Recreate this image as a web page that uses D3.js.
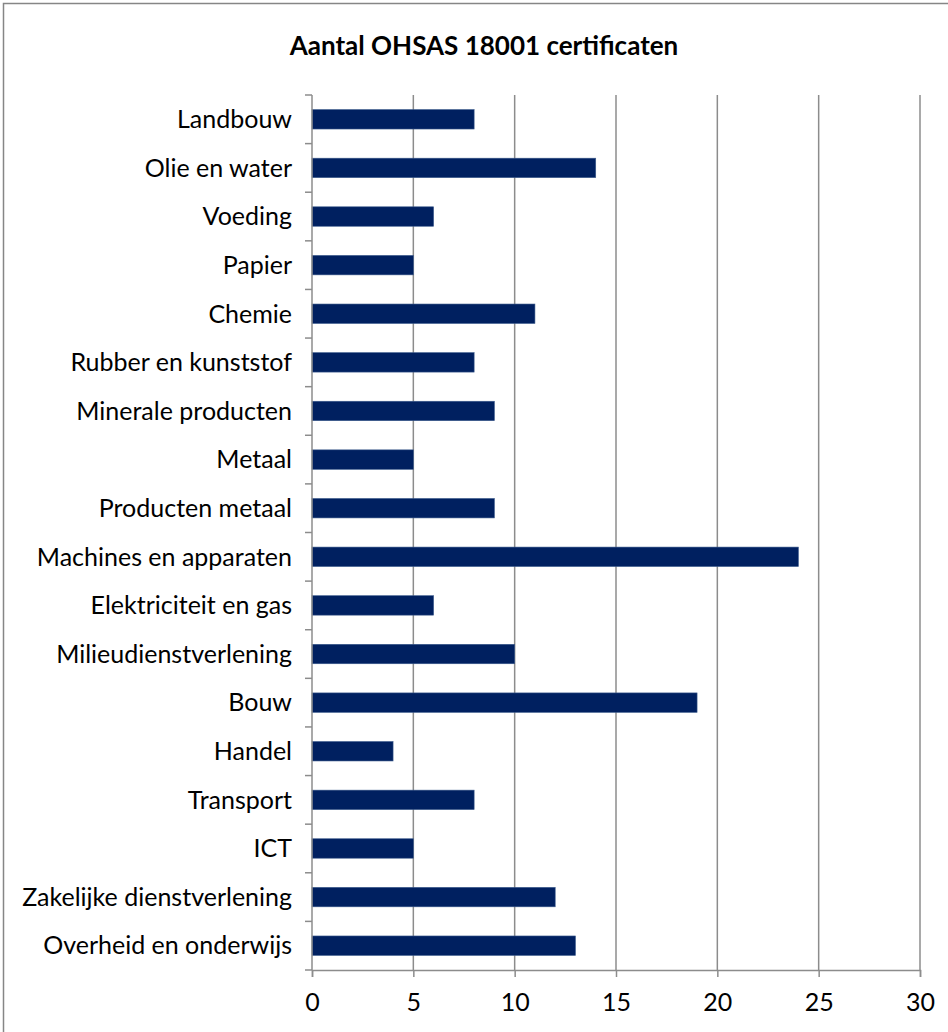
<!DOCTYPE html>
<html>
<head>
<meta charset="utf-8">
<script src="https://cdn.jsdelivr.net/npm/d3@7"></script>
<style>
  body { margin: 0; background: #fff; }
  svg { display: block; font-family: Lato, "Open Sans", sans-serif; }
</style>
</head>
<body>
<svg width="948" height="1032"></svg>
<script>
// categories top to bottom, counts
const sectors = ['Landbouw', 'Olie en water', 'Voeding', 'Papier', 'Chemie',
  'Rubber en kunststof', 'Minerale producten', 'Metaal', 'Producten metaal',
  'Machines en apparaten', 'Elektriciteit en gas', 'Milieudienstverlening',
  'Bouw', 'Handel', 'Transport', 'ICT', 'Zakelijke dienstverlening',
  'Overheid en onderwijs']
const certificates = [8, 14, 6, 5, 11, 8, 9, 5, 9, 24, 6, 10, 19, 4, 8, 5, 12, 13]
const xTicks = [0, 5, 10, 15, 20, 25, 30]
const title = 'Aantal OHSAS 18001 certificaten'

const data = sectors.map((s, i) => ({ sector: s, value: certificates[i] }))

const svg = d3.select('svg')
const margin = { top: 95, right: 28, bottom: 62, left: 312 }
const width = 948 - margin.left - margin.right
const height = 1032 - margin.top - margin.bottom

// outer chart border
svg.append('rect')
  .attr('x', 3.5).attr('y', 3.5)
  .attr('width', 948).attr('height', 1032)
  .attr('fill', 'none').attr('stroke', '#868686').attr('stroke-width', 1.5)

svg.append('text')
  .attr('x', 484).attr('y', 55)
  .attr('text-anchor', 'middle')
  .style('font-size', '26px').attr('font-weight', 'bold')
  .text(title)

const g = svg.append('g')
  .attr('transform', 'translate(' + margin.left + ',' + margin.top + ')')

const x = d3.scaleLinear().domain([0, 30]).range([0, width])
const y = d3.scaleBand().domain(sectors).range([0, height]).paddingInner(0.6).paddingOuter(0.3)

// gridlines
g.selectAll('.grid')
  .data(xTicks.slice(1))
  .enter()
  .append('line')
    .attr('class', 'grid')
    .attr('x1', d => x(d)).attr('x2', d => x(d))
    .attr('y1', 0).attr('y2', height)
    .attr('stroke', '#8c8c8c').attr('stroke-width', 1.5)

// bars
g.selectAll('.bar')
  .data(data)
  .enter()
  .append('rect')
    .attr('class', 'bar')
    .attr('x', 0)
    .attr('y', d => y(d.sector))
    .attr('width', d => x(d.value))
    .attr('height', y.bandwidth())
    .attr('fill', '#002060')
    .attr('stroke', '#3b5a8c').attr('stroke-width', 0.6)

// x axis
const xAxis = g.append('g')
  .attr('transform', 'translate(0,' + height + ')')
  .call(d3.axisBottom(x).tickValues(xTicks).tickSize(7).tickPadding(16))
xAxis.select('.domain').attr('stroke', '#8c8c8c').attr('stroke-width', 1.5)
xAxis.selectAll('.tick line').attr('stroke', '#8c8c8c').attr('stroke-width', 1.5)
xAxis.selectAll('text').style('font-size', '25px').attr('fill', '#000')
  .style('font-family', 'Lato, sans-serif')

// y axis: labels centred on bars, tick marks on category boundaries
const yAxis = g.append('g')
yAxis.append('line')
  .attr('x1', 0).attr('x2', 0).attr('y1', 0).attr('y2', height)
  .attr('stroke', '#8c8c8c').attr('stroke-width', 1.5)
yAxis.selectAll('.ytick')
  .data(d3.range(sectors.length + 1))
  .enter()
  .append('line')
    .attr('class', 'ytick')
    .attr('x1', -7).attr('x2', 0)
    .attr('y1', i => i * height / sectors.length)
    .attr('y2', i => i * height / sectors.length)
    .attr('stroke', '#8c8c8c').attr('stroke-width', 1.5)
yAxis.selectAll('.ylabel')
  .data(sectors)
  .enter()
  .append('text')
    .attr('class', 'ylabel')
    .attr('x', -20)
    .attr('y', d => y(d) + y.bandwidth() / 2)
    .attr('dy', '0.35em')
    .attr('text-anchor', 'end')
    .style('font-size', '25px')
    .text(d => d)
</script>
</body>
</html>
